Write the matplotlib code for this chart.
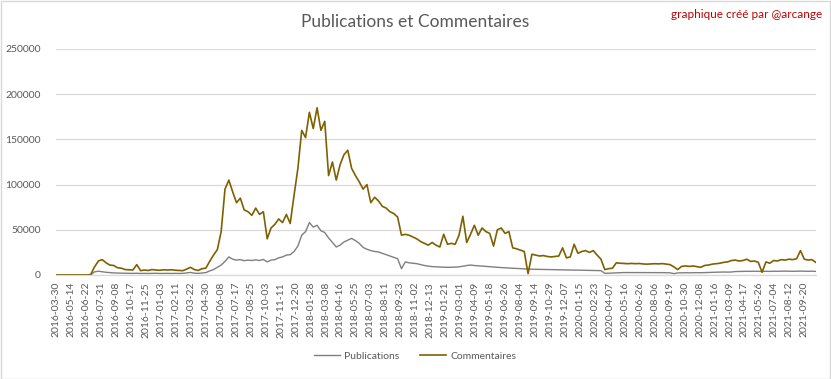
import numpy as np
import matplotlib
matplotlib.use("Agg")
import matplotlib.pyplot as plt
from matplotlib.patches import Rectangle

# ---- data (one sample every 10 days) ----
step = 10
commentaires = [
    0, 0, 0, 0, 0, 0, 0, 0, 0, 500,
    9000, 15500, 17000, 13500, 11000, 10500, 8000, 7500, 6000, 5800,
    5500, 11500, 4800, 5500, 5000, 6000, 5500, 5200, 5800, 5500,
    5800, 5300, 5000, 4800, 6500, 8500, 6000, 5000, 7000, 7500,
    15000, 22000, 28000, 48000, 95000, 105000, 92000, 80000, 85000, 72000,
    70000, 66000, 74000, 67000, 70000, 40000, 52000, 56000, 62000, 58000,
    67000, 57000, 88000, 118000, 160000, 152000, 180000, 162000, 185000, 160000,
    170000, 110000, 125000, 105000, 122000, 133000, 138000, 118000, 110000, 103000,
    95000, 100000, 80000, 86000, 82000, 76000, 74000, 70000, 68000, 64000,
    44000, 45000, 44000, 42000, 40000, 37000, 35000, 33000, 36000, 33000,
    31000, 45000, 34000, 35000, 34000, 44000, 65000, 36000, 45000, 55000,
    44000, 52000, 48000, 46000, 32000, 50000, 52000, 46000, 48000, 30000,
    29000, 27500, 26000, 1500, 23000, 22000, 21000, 21500, 20500, 20000,
    20500, 21000, 30000, 19000, 20000, 34000, 24000, 26000, 27000, 25000,
    27000, 22000, 17500, 6000, 7000, 7500, 13500, 13000, 12800, 12500,
    12800, 12500, 12700, 12200, 12000, 12200, 12500, 12300, 12600, 12000,
    11500, 9000, 6000, 9500, 10000, 9500, 10000, 9200, 8500, 10500,
    11000, 12000, 12500, 13000, 14000, 14500, 16000, 16500, 15500, 16000,
    17500, 15000, 15500, 14000, 3000, 14500, 13000, 16000, 15500, 17000,
    16500, 17500, 17000, 18000, 27000, 17500, 16500, 17000, 14000,
]
publications = [
    0, 0, 0, 0, 0, 0, 0, 0, 0, 200,
    3500, 4200, 3600, 3000, 2600, 2300, 2100, 2000, 1900, 1800,
    1800, 1900, 1700, 1800, 1700, 1800, 1900, 1700, 1800, 1800,
    1700, 1800, 1700, 1800, 2300, 2800, 2000, 1800, 2200, 2600,
    4500, 6000, 8500, 11000, 15000, 20000, 17500, 16500, 17000, 15800,
    16500, 16000, 16800, 16000, 17200, 14500, 16500, 17000, 19000, 20000,
    22000, 22500, 26000, 32000, 44000, 48000, 58000, 53000, 55000, 49000,
    47000, 41000, 36000, 31000, 33000, 36500, 38500, 40500, 38000, 35000,
    30500, 28500, 27000, 26000, 25500, 24000, 22500, 21000, 19500, 18000,
    7000, 14500, 13500, 13000, 12500, 11500, 10500, 9800, 9300, 9000,
    8800, 8600, 8500, 8600, 8700, 9000, 9800, 10500, 11000, 10500,
    10200, 9800, 9500, 9200, 8800, 8500, 8200, 8000, 7700, 7500,
    7200, 7000, 6800, 6500, 6400, 6300, 6200, 6100, 6000, 5900,
    5800, 5700, 5700, 5600, 5500, 5500, 5400, 5300, 5200, 5100,
    5000, 4900, 4800, 1800, 2000, 2200, 2500, 2600, 2700, 2700,
    2800, 2700, 2600, 2700, 2800, 2700, 2600, 2700, 2600, 2500,
    2400, 1500, 2300, 2400, 2500, 2400, 2500, 2600, 2500, 2600,
    2800, 3000, 3100, 3200, 3300, 3200, 3300, 3800, 3900, 4000,
    4100, 4000, 4200, 4100, 3900, 4100, 4000, 4200, 4100, 4200,
    4300, 4200, 4100, 4200, 4300, 4200, 4100, 4200, 4000,
]
tick_labels = [
    "2016-03-30", "2016-05-14", "2016-06-22", "2016-07-31", "2016-09-08",
    "2016-10-17", "2016-11-25", "2017-01-03", "2017-02-11", "2017-03-22",
    "2017-04-30", "2017-06-08", "2017-07-17", "2017-08-25", "2017-10-03",
    "2017-11-11", "2017-12-20", "2018-01-28", "2018-03-08", "2018-04-16",
    "2018-05-25", "2018-07-03", "2018-08-11", "2018-09-23", "2018-11-02",
    "2018-12-13", "2019-01-21", "2019-03-01", "2019-04-09", "2019-05-18",
    "2019-06-26", "2019-08-04", "2019-09-14", "2019-10-29", "2019-12-07",
    "2020-01-15", "2020-02-23", "2020-04-07", "2020-05-16", "2020-06-26",
    "2020-08-06", "2020-09-19", "2020-10-30", "2020-12-08", "2021-01-16",
    "2021-03-09", "2021-04-17", "2021-05-26", "2021-07-04", "2021-08-12",
    "2021-09-20",
]
label_every = 39
yticks = [0, 50000, 100000, 150000, 200000, 250000]

# ---- figure ----
plt.rcParams['font.family'] = ['Lato', 'DejaVu Sans']
W, H = 831, 379
fig = plt.figure(figsize=(W / 100, H / 100), dpi=100)
fig.patches.append(Rectangle((0.5 / W, 0.5 / H), 1 - 1.5 / W, 1 - 1.5 / H,
                             transform=fig.transFigure, fill=False,
                             edgecolor='#D9D9D9', linewidth=1.0))

ax = fig.add_axes([56 / W, 1 - 275 / H, (816 - 56) / W, (275 - 49) / H])

x = np.arange(len(commentaires)) * step
ax.plot(x, publications, color='#7F7F7F', lw=1.0, label='Publications')
ax.plot(x, commentaires, color='#7F6000', lw=1.2, label='Commentaires')

n_cat = (len(commentaires) - 1) * step + 1
ax.set_xlim(-0.5, n_cat - 0.5)
ax.set_ylim(0, 250000)

ax.set_yticks(yticks)
ax.set_yticklabels([str(v) for v in yticks])
ax.set_xticks(np.arange(len(tick_labels)) * label_every)
ax.set_xticklabels(tick_labels, rotation=90)

ax.grid(axis='y', color='#D9D9D9', lw=0.9)
ax.set_axisbelow(True)
for s in ['top', 'right', 'left']:
    ax.spines[s].set_visible(False)
ax.spines['bottom'].set_color('#D9D9D9')
ax.spines['bottom'].set_linewidth(0.9)
ax.tick_params(axis='y', length=0, pad=11, labelsize=7.5, labelcolor='#595959')
ax.tick_params(axis='x', length=0, pad=5, labelsize=7.5, labelcolor='#595959')

fig.text(415 / W, 1 - 22 / H, "Publications et Commentaires", ha='center',
         va='center', fontsize=12.5, color='#595959')
fig.text(822 / W, 1 - 15 / H, "graphique créé par @arcange", ha='right',
         va='center', fontsize=8.5, color='#C00000')

fig.legend(loc='center', bbox_to_anchor=(415 / W, 1 - 356 / H), ncol=2,
           frameon=False, fontsize=7.5, labelcolor='#595959',
           handlelength=2.5, columnspacing=2.0, handletextpad=0.4)

fig.savefig("out.png", dpi=100)
